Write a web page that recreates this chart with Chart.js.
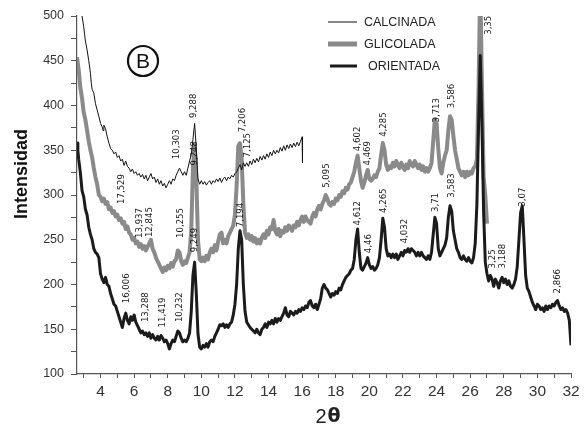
<!DOCTYPE html>
<html>
<head>
<meta charset="utf-8">
<script src="https://cdn.jsdelivr.net/npm/chart.js@4/dist/chart.umd.min.js"></script>
<style>
  html, body { margin: 0; padding: 0; background: #fff; }
  #wrap { width: 587px; height: 425px; }
</style>
</head>
<body>
<div id="wrap"><canvas id="xrd" width="587" height="425"></canvas></div>
<script>
const calcinada = [
  [2.9,500],[3.0,488],[3.1,472],[3.2,462],[3.3,450],[3.4,436],[3.45,425],[3.5,418],[3.6,414],[3.7,402],
  [3.8,395],[3.9,388],[4.0,380],[4.1,376],[4.15,372],[4.2,378],[4.3,374],[4.4,365],[4.5,358],[4.6,352],
  [4.7,350],[4.8,346],[4.9,348],[5.0,342],[5.1,344],[5.2,338],[5.3,340],[5.4,333],[5.5,338],[5.6,332],
  [5.7,330],[5.8,326],[5.9,329],[6.0,324],[6.1,326],[6.2,322],[6.3,324],[6.4,320],[6.5,323],[6.6,318],
  [6.7,322],[6.8,316],[6.9,320],[7.0,324],[7.1,318],[7.2,320],[7.3,314],[7.4,318],[7.5,312],[7.6,316],
  [7.7,310],[7.8,313],[7.9,308],[8.0,312],[8.1,316],[8.2,312],[8.3,318],[8.4,316],[8.5,322],[8.6,326],
  [8.7,330],[8.8,326],[8.9,322],[9.0,326],[9.1,322],[9.2,330],[9.3,338],[9.4,345],[9.5,362],[9.6,380],
  [9.7,352],[9.8,318],[9.9,312],[10.0,316],[10.1,312],[10.2,315],[10.3,311],[10.4,314],[10.5,316],[10.6,312],
  [10.7,316],[10.8,314],[10.9,318],[11.0,315],[11.1,319],[11.2,314],[11.3,318],[11.4,320],[11.5,316],[11.6,320],
  [11.7,318],[11.8,322],[11.9,320],[12.0,324],[12.1,326],[12.2,330],[12.3,334],[12.4,328],[12.5,336],[12.6,332],
  [12.7,336],[12.8,332],[12.9,338],[13.0,334],[13.1,340],[13.2,336],[13.3,341],[13.4,337],[13.5,343],[13.6,339],
  [13.7,344],[13.8,340],[13.9,346],[14.0,342],[14.1,348],[14.2,344],[14.3,350],[14.4,346],[14.5,350],[14.6,347],
  [14.7,353],[14.8,349],[14.9,355],[15.0,350],[15.1,356],[15.2,352],[15.3,357],[15.4,353],[15.5,358],[15.6,354],
  [15.7,359],[15.8,355],[15.9,360],[16.0,365],[16.02,336]
];

const glicolada = [
  [2.6,454],[2.7,440],[2.8,420],[2.9,408],[3.0,392],[3.1,384],[3.2,372],[3.3,360],[3.4,350],[3.5,342],
  [3.6,330],[3.7,320],[3.8,312],[3.9,300],[4.0,298],[4.1,293],[4.2,296],[4.3,290],[4.4,292],[4.5,284],
  [4.6,286],[4.7,280],[4.8,282],[4.9,276],[5.0,278],[5.1,272],[5.2,274],[5.3,268],[5.4,270],[5.5,262],
  [5.6,265],[5.7,258],[5.8,256],[5.9,250],[6.0,252],[6.1,246],[6.2,248],[6.3,242],[6.4,245],[6.5,240],
  [6.6,243],[6.7,238],[6.8,242],[6.9,246],[7.0,250],[7.1,240],[7.2,236],[7.3,230],[7.4,226],[7.5,222],
  [7.6,218],[7.7,214],[7.8,219],[7.9,216],[8.0,221],[8.1,218],[8.2,224],[8.3,220],[8.4,226],[8.5,228],
  [8.6,238],[8.7,236],[8.8,226],[8.9,222],[9.0,226],[9.1,224],[9.2,230],[9.3,236],[9.4,260],[9.5,330],
  [9.6,356],[9.7,320],[9.8,250],[9.9,228],[10.0,226],[10.1,230],[10.2,226],[10.3,232],[10.4,228],[10.5,236],
  [10.6,240],[10.7,236],[10.8,244],[10.9,238],[11.0,248],[11.1,256],[11.2,258],[11.3,246],[11.4,250],[11.5,246],
  [11.6,254],[11.7,258],[11.8,262],[11.9,266],[12.0,278],[12.1,310],[12.2,355],[12.3,358],[12.4,340],[12.5,290],
  [12.6,258],[12.7,252],[12.8,256],[12.9,250],[13.0,254],[13.1,248],[13.2,252],[13.3,246],[13.4,250],[13.5,246],
  [13.6,252],[13.7,256],[13.8,252],[13.9,260],[14.0,256],[14.1,264],[14.2,262],[14.3,272],[14.4,260],[14.5,256],
  [14.6,262],[14.7,254],[14.8,260],[14.9,258],[15.0,264],[15.1,260],[15.2,266],[15.3,264],[15.4,260],[15.5,266],
  [15.6,264],[15.7,270],[15.8,266],[15.9,272],[16.0,276],[16.1,270],[16.2,276],[16.3,272],[16.4,270],[16.5,268],
  [16.6,276],[16.7,280],[16.8,276],[16.9,284],[17.0,288],[17.1,284],[17.2,290],[17.3,294],[17.4,300],[17.5,296],
  [17.6,290],[17.7,288],[17.8,292],[17.9,290],[18.0,296],[18.1,294],[18.2,300],[18.3,298],[18.4,304],[18.5,302],
  [18.6,308],[18.7,306],[18.8,312],[18.9,314],[19.0,320],[19.1,326],[19.2,336],[19.3,344],[19.4,330],[19.5,316],
  [19.6,308],[19.7,314],[19.8,322],[19.9,328],[20.0,318],[20.1,316],[20.2,318],[20.3,322],[20.4,320],[20.5,326],
  [20.6,330],[20.7,345],[20.8,358],[20.9,350],[21.0,334],[21.1,328],[21.2,332],[21.3,330],[21.4,336],[21.5,332],
  [21.6,338],[21.7,334],[21.8,330],[21.9,336],[22.0,332],[22.1,328],[22.2,334],[22.3,330],[22.4,338],[22.5,334],
  [22.6,332],[22.7,338],[22.8,334],[22.9,330],[23.0,334],[23.1,328],[23.2,332],[23.3,326],[23.4,330],[23.5,326],
  [23.6,330],[23.7,336],[23.8,360],[23.9,385],[24.0,380],[24.1,352],[24.2,330],[24.3,324],[24.4,336],[24.5,344],
  [24.6,350],[24.7,372],[24.8,388],[24.9,384],[25.0,366],[25.1,350],[25.2,340],[25.3,330],[25.4,326],[25.5,322],
  [25.6,326],[25.7,320],[25.8,326],[25.9,322],[26.0,326],[26.1,324],[26.2,330],[26.3,332],[26.4,340],[26.5,420],
  [26.6,540],[26.7,420],[26.8,320],[26.9,300],[27.0,268]
];

const orientada = [
  [2.6,358],[2.65,350],[2.7,340],[2.8,325],[2.9,305],[3.0,298],[3.1,284],[3.2,278],[3.3,264],[3.4,256],
  [3.5,250],[3.6,240],[3.7,236],[3.8,234],[3.9,230],[4.0,212],[4.1,206],[4.2,202],[4.3,208],[4.4,200],
  [4.5,198],[4.6,190],[4.7,184],[4.8,178],[4.9,176],[5.0,170],[5.1,164],[5.2,158],[5.3,152],[5.4,162],
  [5.5,168],[5.6,160],[5.7,156],[5.8,164],[5.9,160],[6.0,166],[6.1,158],[6.2,154],[6.3,150],[6.4,146],
  [6.5,148],[6.6,144],[6.7,146],[6.8,142],[6.9,146],[7.0,140],[7.1,144],[7.2,140],[7.3,138],[7.4,142],
  [7.5,138],[7.6,143],[7.7,140],[7.8,136],[7.9,138],[8.0,134],[8.1,128],[8.2,134],[8.3,138],[8.4,136],
  [8.5,142],[8.6,148],[8.7,146],[8.8,140],[8.9,136],[9.0,138],[9.1,136],[9.2,140],[9.3,146],[9.4,170],
  [9.5,210],[9.6,225],[9.7,190],[9.8,145],[9.9,130],[10.0,128],[10.1,132],[10.2,130],[10.3,134],[10.4,130],
  [10.5,136],[10.6,138],[10.7,136],[10.8,142],[10.9,146],[11.0,150],[11.1,155],[11.2,154],[11.3,156],[11.4,152],
  [11.5,155],[11.6,152],[11.7,156],[11.8,158],[11.9,166],[12.0,178],[12.1,200],[12.2,240],[12.3,260],[12.4,250],
  [12.5,200],[12.6,170],[12.7,158],[12.8,155],[12.9,152],[13.0,150],[13.1,148],[13.2,146],[13.3,150],[13.4,146],
  [13.5,144],[13.6,150],[13.7,152],[13.8,156],[13.9,152],[14.0,158],[14.1,156],[14.2,160],[14.3,156],[14.4,162],
  [14.5,158],[14.6,162],[14.7,160],[14.8,164],[14.9,168],[15.0,174],[15.1,166],[15.2,164],[15.3,170],[15.4,168],
  [15.5,166],[15.6,170],[15.7,168],[15.8,172],[15.9,170],[16.0,174],[16.1,172],[16.2,176],[16.3,174],[16.4,180],
  [16.5,182],[16.6,176],[16.7,174],[16.8,178],[16.9,172],[17.0,178],[17.1,184],[17.2,196],[17.3,200],[17.4,196],
  [17.5,194],[17.6,190],[17.7,186],[17.8,190],[17.9,188],[18.0,192],[18.1,190],[18.2,196],[18.3,194],[18.4,200],
  [18.5,204],[18.6,208],[18.7,210],[18.8,212],[18.9,216],[19.0,218],[19.1,228],[19.2,250],[19.3,262],[19.4,236],
  [19.5,218],[19.6,216],[19.7,220],[19.8,224],[19.9,230],[20.0,222],[20.1,218],[20.2,220],[20.3,216],[20.4,218],
  [20.5,222],[20.6,230],[20.7,250],[20.8,274],[20.9,264],[21.0,240],[21.1,232],[21.2,234],[21.3,230],[21.4,234],
  [21.5,230],[21.6,234],[21.7,228],[21.8,232],[21.9,236],[22.0,232],[22.1,238],[22.2,236],[22.3,240],[22.4,236],
  [22.5,240],[22.6,238],[22.7,236],[22.8,232],[22.9,236],[23.0,232],[23.1,236],[23.2,232],[23.3,230],[23.4,228],
  [23.5,232],[23.6,228],[23.7,236],[23.8,256],[23.9,275],[24.0,268],[24.1,240],[24.2,232],[24.3,236],[24.4,240],
  [24.5,244],[24.6,252],[24.7,275],[24.8,288],[24.9,282],[25.0,260],[25.1,250],[25.2,240],[25.3,236],[25.4,230],
  [25.5,228],[25.6,232],[25.7,228],[25.8,226],[25.9,230],[26.0,226],[26.1,224],[26.2,230],[26.3,246],[26.4,290],
  [26.5,380],[26.6,456],[26.7,380],[26.8,280],[26.9,225],[27.0,212],[27.1,204],[27.2,210],[27.3,206],[27.4,198],
  [27.5,206],[27.6,202],[27.7,196],[27.8,204],[27.9,208],[28.0,202],[28.1,206],[28.2,200],[28.3,204],[28.4,198],
  [28.5,196],[28.6,200],[28.7,206],[28.8,220],[28.9,250],[29.0,280],[29.1,288],[29.2,250],[29.3,210],[29.4,196],
  [29.5,192],[29.6,186],[29.7,180],[29.8,176],[29.9,172],[30.0,178],[30.1,176],[30.2,172],[30.3,174],[30.4,170],
  [30.5,176],[30.6,172],[30.7,176],[30.8,174],[30.9,178],[31.0,176],[31.1,180],[31.2,182],[31.3,176],[31.4,172],
  [31.5,174],[31.6,170],[31.7,172],[31.8,168],[31.9,160],[32.0,132]
];

// espaciados d (Å) anotados: [texto, 2θ, intensidad donde empieza el texto]
const peakLabels = [
  ["17,529", 5.27, 290], ["13,937", 6.34, 252], ["12,845", 6.94, 253], ["10,255", 8.74, 252],
  ["10,303", 8.55, 340], ["9,288", 9.56, 386], ["9,248", 9.6, 333], ["9,249", 9.57, 236],
  ["7,206", 12.43, 370], ["7,125", 12.72, 342], ["7,194", 12.31, 264],
  ["16,006", 5.57, 179], ["13,288", 6.7, 158], ["11,419", 7.72, 152], ["10,232", 8.73, 158],
  ["5,095", 17.48, 308], ["4,602", 19.27, 349], ["4,469", 19.87, 333], ["4,285", 20.87, 365],
  ["3,713", 24.02, 381], ["3,586", 24.9, 397], ["3,35", 27.1, 479],
  ["4,612", 19.27, 266], ["4,46", 19.93, 235], ["4,265", 20.87, 280], ["4,032", 22.07, 246],
  ["3,71", 23.96, 281], ["3,583", 24.9, 297], ["3,25", 27.35, 218], ["3,188", 27.95, 218],
  ["3,07", 29.14, 287], ["2,866", 31.17, 190]
];

const seriesNames = ["CALCINADA", "GLICOLADA", "ORIENTADA"];
const xTicks = [3,4,5,6,7,8,9,10,11,12,13,14,15,16,17,18,19,20,21,22,23,24,25,26,27,28,29,30,31,32];
const yTicks = [100,125,150,175,200,225,250,275,300,325,350,375,400,425,450,475,500];

const toPoints = (rows) => rows.map(([x, y]) => ({ x, y }));

const styles = [
  { color: "#111111", width: 1, order: 1 },
  { color: "#8a8a8a", width: 4, order: 2 },
  { color: "#1b1b1b", width: 3, order: 0 },
];

const overlay = {
  id: "overlay",
  afterDraw(chart) {
    const { ctx } = chart;
    const { x, y } = chart.scales;
    ctx.save();

    // anotaciones verticales de los picos
    ctx.fillStyle = "#1a1a1a";
    ctx.font = '9.5px "Liberation Sans Narrow", "DejaVu Sans Condensed", "Liberation Sans", sans-serif';
    ctx.textAlign = "left";
    ctx.textBaseline = "middle";
    peakLabels.forEach(([text, tx, ty]) => {
      ctx.save();
      ctx.translate(x.getPixelForValue(tx), y.getPixelForValue(ty));
      ctx.rotate(-Math.PI / 2);
      ctx.fillText(text, 0, 0);
      ctx.restore();
    });

    // leyenda
    const legendRows = [22, 44, 66];
    const legendText = [364, 364, 368];
    seriesNames.forEach((name, i) => {
      ctx.beginPath();
      ctx.strokeStyle = styles[i].color;
      ctx.lineWidth = i === 1 ? 5 : styles[i].width;
      ctx.moveTo(i === 2 ? 330 : 328, legendRows[i]);
      ctx.lineTo(357, legendRows[i]);
      ctx.stroke();
      ctx.fillStyle = "#222";
      ctx.font = '12.5px "Liberation Sans", Arial, sans-serif';
      ctx.textBaseline = "middle";
      ctx.fillText(name, legendText[i], legendRows[i] + 1);
    });

    // letra B en círculo
    ctx.beginPath();
    ctx.lineWidth = 2.2;
    ctx.strokeStyle = "#111";
    ctx.arc(143, 61, 15, 0, Math.PI * 2);
    ctx.stroke();
    ctx.fillStyle = "#111";
    ctx.font = '21px "Liberation Sans", Arial, sans-serif';
    ctx.textAlign = "center";
    ctx.fillText("B", 143, 62);

    // títulos de ejes
    ctx.font = 'bold 18px "Liberation Sans", Arial, sans-serif';
    ctx.save();
    ctx.translate(22, 174);
    ctx.rotate(-Math.PI / 2);
    ctx.fillText("Intensidad", 0, 0);
    ctx.restore();
    ctx.fillStyle = "#222";
    ctx.font = '20px "Liberation Sans", Arial, sans-serif';
    ctx.fillText("2", 321, 417);
    ctx.font = 'bold 19px "DejaVu Sans", sans-serif';
    ctx.fillText("θ", 334, 417);

    ctx.restore();
  },
};

new Chart(document.getElementById("xrd"), {
  type: "line",
  data: {
    datasets: [calcinada, glicolada, orientada].map((rows, i) => ({
      label: seriesNames[i],
      data: toPoints(rows),
      borderColor: styles[i].color,
      borderWidth: styles[i].width,
      pointRadius: 0,
      tension: 0,
      fill: false,
      order: styles[i].order,
      borderJoinStyle: "round",
    })),
  },
  options: {
    responsive: false,
    animation: false,
    devicePixelRatio: 1,
    layout: { padding: { top: 16, right: 16, left: 0, bottom: 0 } },
    plugins: { legend: { display: false }, tooltip: { enabled: false } },
    scales: {
      x: {
        type: "linear",
        min: 2.6,
        max: 32,
        afterBuildTicks: (axis) => { axis.ticks = xTicks.map((v) => ({ value: v })); },
        afterFit: (axis) => { axis.height = 51; },
        border: { display: true, color: "#555", width: 1.2 },
        grid: { drawOnChartArea: false, drawTicks: true, tickLength: 4, color: "#555" },
        ticks: {
          autoSkip: false,
          maxRotation: 0,
          padding: 4,
          color: "#333",
          font: { family: '"Liberation Sans", Arial, sans-serif', size: 15.5 },
          callback: (v) => (v % 2 === 0 && v >= 4 ? String(v) : ""),
        },
      },
      y: {
        type: "linear",
        min: 100,
        max: 500,
        afterBuildTicks: (axis) => { axis.ticks = yTicks.map((v) => ({ value: v })); },
        afterFit: (axis) => { axis.width = 77; },
        border: { display: true, color: "#555", width: 1.2 },
        grid: { drawOnChartArea: false, drawTicks: true, tickLength: 6, color: "#555" },
        ticks: {
          autoSkip: false,
          padding: 7,
          color: "#333",
          font: { family: '"Liberation Sans", Arial, sans-serif', size: 12.5 },
          callback: (v) => (v % 50 === 0 ? String(v) : ""),
        },
      },
    },
  },
  plugins: [overlay],
});
</script>
</body>
</html>
